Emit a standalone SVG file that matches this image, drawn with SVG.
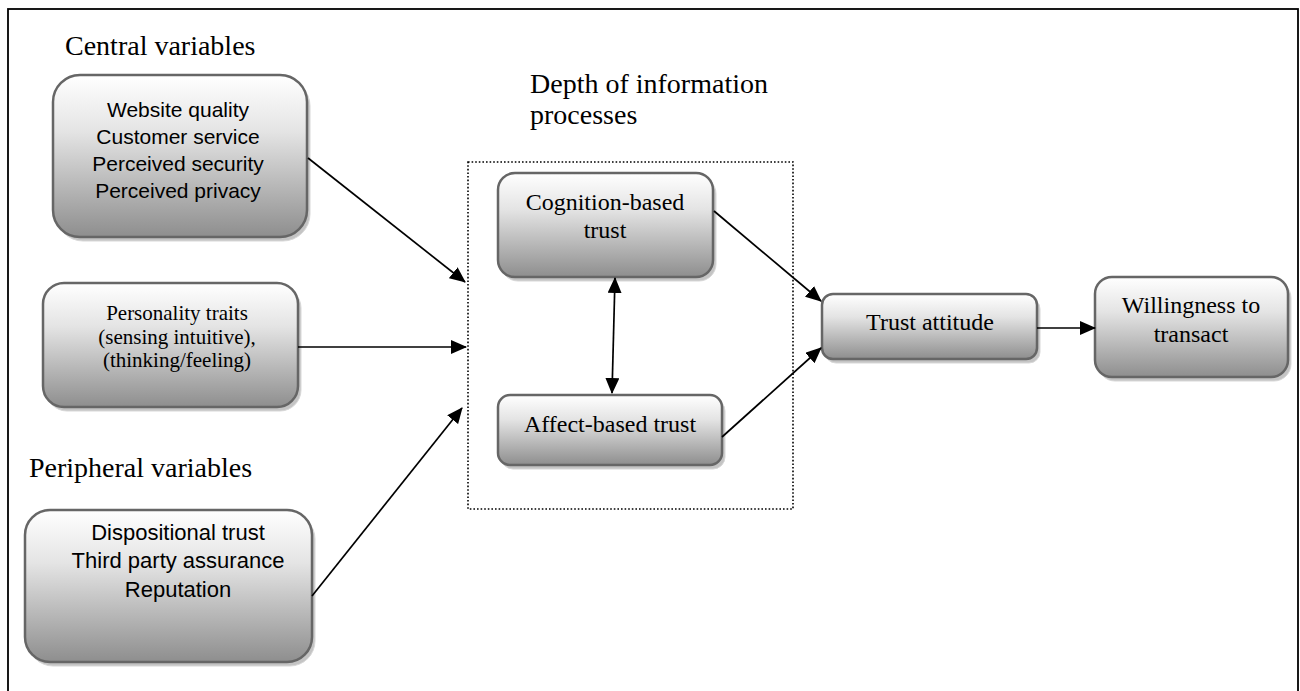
<svg xmlns="http://www.w3.org/2000/svg" width="1300" height="691" viewBox="0 0 1300 691">
<defs>
<linearGradient id="g" x1="0" y1="0" x2="0" y2="1">
<stop offset="0" stop-color="#ffffff"/>
<stop offset="0.35" stop-color="#e4e4e4"/>
<stop offset="1" stop-color="#8e8e8e"/>
</linearGradient>
<marker id="ah" markerUnits="userSpaceOnUse" markerWidth="16" markerHeight="14" refX="15" refY="7" orient="auto">
<path d="M0,0 L16,7 L0,14 Z" fill="#000"/>
</marker>
<marker id="as" markerUnits="userSpaceOnUse" markerWidth="16" markerHeight="14" refX="1" refY="7" orient="auto">
<path d="M16,0 L0,7 L16,14 Z" fill="#000"/>
</marker>
</defs>
<style>
.box{fill:url(#g);stroke:#666;stroke-width:2.5}
.sh{fill:#c4c4c4;stroke:#d8d8d8;stroke-width:1}
.serif{font-family:"Liberation Serif","Times New Roman",serif;fill:#000}
.sans{font-family:"Liberation Sans",Arial,sans-serif;fill:#000;font-size:21px}
.lbl{font-size:28px}
.conn{stroke:#000;stroke-width:1.7;fill:none}
</style>
<rect x="8" y="9" width="1290" height="700" fill="#fff" stroke="#000" stroke-width="1.8"/>

<g id="labels">
<text class="serif lbl" x="65" y="55">Central variables</text>
<text class="serif lbl" x="29" y="477">Peripheral variables</text>
<text class="serif lbl" x="530" y="93">Depth of information</text>
<text class="serif lbl" x="530" y="124">processes</text>
</g>

<g id="group-depth">
<rect x="468" y="162" width="325" height="347" fill="none" stroke="#000" stroke-width="1.6" stroke-dasharray="1.6 2"/>
</g>

<g id="node-central">
<rect class="sh" x="56" y="79" width="254" height="162" rx="27"/>
<rect class="box" x="53" y="75" width="254" height="162" rx="27"/>
<text class="sans" text-anchor="middle" x="178" y="117">Website quality</text>
<text class="sans" text-anchor="middle" x="178" y="144">Customer service</text>
<text class="sans" text-anchor="middle" x="178" y="171">Perceived security</text>
<text class="sans" text-anchor="middle" x="178" y="198">Perceived privacy</text>
</g>

<g id="node-personality">
<rect class="sh" x="46" y="287" width="255" height="124" rx="21"/>
<rect class="box" x="43" y="283" width="255" height="124" rx="21"/>
<text class="serif" font-size="21" text-anchor="middle" x="177" y="320">Personality traits</text>
<text class="serif" font-size="21" text-anchor="middle" x="177" y="344">(sensing intuitive),</text>
<text class="serif" font-size="21" text-anchor="middle" x="177" y="367">(thinking/feeling)</text>
</g>

<g id="node-peripheral">
<rect class="sh" x="28" y="514" width="287" height="152" rx="25"/>
<rect class="box" x="25" y="510" width="287" height="152" rx="25"/>
<text class="sans" font-size="22" text-anchor="middle" x="178" y="540" style="font-size:22px">Dispositional trust</text>
<text class="sans" text-anchor="middle" x="178" y="568" style="font-size:22px">Third party assurance</text>
<text class="sans" text-anchor="middle" x="178" y="597" style="font-size:22px">Reputation</text>
</g>

<g id="node-cognition">
<rect class="sh" x="501" y="177" width="215" height="104" rx="17"/>
<rect class="box" x="498" y="173" width="215" height="104" rx="17"/>
<text class="serif" font-size="24" text-anchor="middle" x="605" y="210">Cognition-based</text>
<text class="serif" font-size="24" text-anchor="middle" x="605" y="238">trust</text>
</g>

<g id="node-affect">
<rect class="sh" x="501" y="399" width="224" height="70" rx="12"/>
<rect class="box" x="498" y="395" width="224" height="70" rx="12"/>
<text class="serif" font-size="24" text-anchor="middle" x="610" y="432">Affect-based trust</text>
</g>

<g id="node-trust-attitude">
<rect class="sh" x="825" y="298" width="215" height="65" rx="11"/>
<rect class="box" x="822" y="294" width="215" height="65" rx="11"/>
<text class="serif" font-size="24" text-anchor="middle" x="930" y="330">Trust attitude</text>
</g>

<g id="node-willingness">
<rect class="sh" x="1098" y="281" width="193" height="100" rx="17"/>
<rect class="box" x="1095" y="277" width="193" height="100" rx="17"/>
<text class="serif" font-size="24" text-anchor="middle" x="1191" y="313">Willingness to</text>
<text class="serif" font-size="24" text-anchor="middle" x="1191" y="342">transact</text>
</g>

<g id="connectors">
<line class="conn" x1="308" y1="158" x2="465" y2="282" marker-end="url(#ah)"/>
<line class="conn" x1="298" y1="347" x2="466" y2="347" marker-end="url(#ah)"/>
<line class="conn" x1="312" y1="596" x2="462" y2="408" marker-end="url(#ah)"/>
<line class="conn" x1="615" y1="278" x2="612" y2="393" marker-start="url(#as)" marker-end="url(#ah)"/>
<line class="conn" x1="714" y1="211" x2="821" y2="301" marker-end="url(#ah)"/>
<line class="conn" x1="722" y1="437" x2="821" y2="348" marker-end="url(#ah)"/>
<line class="conn" x1="1037" y1="328" x2="1095" y2="328" marker-end="url(#ah)"/>
</g>
</svg>
